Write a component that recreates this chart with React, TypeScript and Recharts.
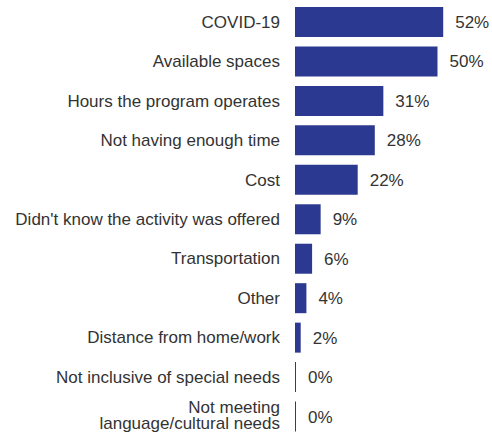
import { BarChart, Bar, XAxis, YAxis, LabelList } from "recharts";

const categories = [
  "COVID-19",
  "Available spaces",
  "Hours the program operates",
  "Not having enough time",
  "Cost",
  "Didn't know the activity was offered",
  "Transportation",
  "Other",
  "Distance from home/work",
  "Not inclusive of special needs",
  "Not meeting\nlanguage/cultural needs",
];

const percents = [52, 50, 31, 28, 22, 9, 6, 4, 2, 0, 0];

const data = categories.map((name, i) => ({ name, value: percents[i] }));

const FONT = "'Liberation Sans', Arial, sans-serif";

// category labels, split on \n for the two-line one
const CategoryTick = ({ x, y, payload }: any) => {
  const lines = String(payload.value).split("\n");
  const lh = 16;
  const first = lines.length > 1 ? -3.5 : 6;
  return (
    <text
      x={x}
      y={y}
      textAnchor="end"
      fill="#333"
      fontSize={17}
      fontFamily={FONT}
    >
      {lines.map((l, i) => (
        <tspan key={i} x={x} dy={i === 0 ? first : lh}>
          {l}
        </tspan>
      ))}
    </text>
  );
};

export default function App() {
  return (
    <div
      style={{
        position: "absolute",
        left: 0,
        top: 0,
        width: 492,
        height: 433,
        overflow: "hidden",
        background: "#fff",
      }}
    >
      <BarChart
        width={492}
        height={436}
        data={data}
        layout="vertical"
        margin={{ top: 2, right: 26, bottom: 0, left: 0 }}
      >
        <XAxis
          type="number"
          domain={[0, 60]}
          allowDataOverflow
          hide
        />
        <YAxis
          type="category"
          dataKey="name"
          width={295}
          axisLine={false}
          tickLine={false}
          tickMargin={9}
          interval={0}
          tick={<CategoryTick />}
        />
        <Bar
          dataKey="value"
          fill="#2b3990"
          barSize={30}
          minPointSize={1}
          isAnimationActive={false}
        >
          <LabelList
            dataKey="value"
            position="right"
            offset={12}
            formatter={(v: any) => `${v}%`}
            fill="#333"
            fontSize={17}
            fontFamily={FONT}
          />
        </Bar>
      </BarChart>
    </div>
  );
}
